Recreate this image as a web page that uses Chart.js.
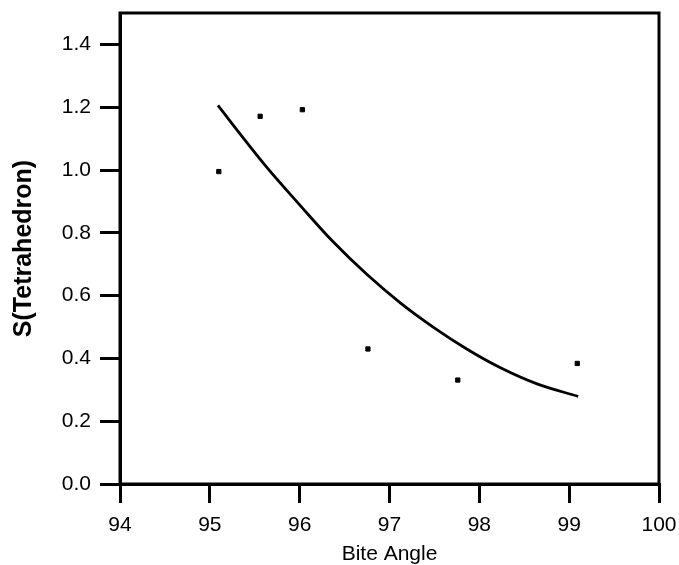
<!DOCTYPE html>
<html>
<head>
<meta charset="utf-8">
<script src="https://cdn.jsdelivr.net/npm/chart.js@4.4.1/dist/chart.umd.min.js"></script>
<style>
  html, body { margin: 0; padding: 0; background: #fff; }
  #wrap { width: 679px; height: 565px; }
</style>
</head>
<body>
<div id="wrap"><canvas id="c" width="679" height="565"></canvas></div>
<script>
// Measured complexes: bite angle vs. continuous-shape measure S(Tetrahedron)
const biteAngle = [95.10, 95.56, 96.03, 96.76, 97.76, 99.09];
const sTetra    = [0.995, 1.171, 1.192, 0.430, 0.331, 0.384];

// Fitted trend curve, sampled along its length
const fitAngle = [95.09, 95.26, 95.63, 96.00, 96.37, 96.75, 97.12, 97.49, 97.86, 98.23, 98.65, 99.10];
const fitS     = [1.206, 1.143, 1.010, 0.889, 0.772, 0.667, 0.577, 0.499, 0.430, 0.371, 0.318, 0.279];

// Axis ranges and tick labels
const xTicks = [94, 95, 96, 97, 98, 99, 100];
const yTicks = [0.0, 0.2, 0.4, 0.6, 0.8, 1.0, 1.2, 1.4];
const xRange = [94, 100];
const yRange = [0, 1.5];

const toXY = (xs, ys) => xs.map((x, i) => ({ x: x, y: ys[i] }));

// Closed frame around the plotting area
const frame = {
  id: 'frame',
  afterDatasetsDraw(chart) {
    const a = chart.chartArea, ctx = chart.ctx;
    ctx.save();
    ctx.strokeStyle = '#000';
    ctx.lineWidth = 3;
    ctx.strokeRect(a.left, a.top, a.right - a.left, a.bottom - a.top);
    ctx.restore();
  }
};

const fontFamily = '"Liberation Sans", Arial, sans-serif';
const tickFont = { family: fontFamily, size: 21 };

new Chart(document.getElementById('c'), {
  type: 'scatter',
  data: {
    datasets: [
      {
        label: 'fit',
        data: toXY(fitAngle, fitS),
        showLine: true,
        borderColor: '#000',
        borderWidth: 2.8,
        cubicInterpolationMode: 'monotone',
        pointRadius: 0,
        fill: false
      },
      {
        label: 'S(Tetrahedron)',
        data: toXY(biteAngle, sTetra),
        showLine: false,
        pointStyle: 'rect',
        pointRadius: 3,
        pointBorderWidth: 1,
        pointBackgroundColor: '#000',
        pointBorderColor: '#000'
      }
    ]
  },
  options: {
    responsive: false,
    animation: false,
    layout: { padding: { left: 0, top: 13, right: 20, bottom: 0 } },
    plugins: { legend: { display: false }, tooltip: { enabled: false } },
    scales: {
      x: {
        type: 'linear',
        min: xRange[0], max: xRange[1],
        afterBuildTicks(s) { s.ticks = xTicks.map(v => ({ value: v })); },
        afterFit(s) { s.height = 81; s.paddingLeft = 0; s.paddingRight = 0; },
        grid: { display: true, drawOnChartArea: false, drawTicks: true, tickLength: 19, lineWidth: 3, color: '#000' },
        border: { display: true, width: 3, color: '#000' },
        ticks: { color: '#000', font: tickFont, padding: 10, maxRotation: 0, callback: v => String(v) },
        title: { display: true, text: 'Bite Angle', color: '#000',
                 font: { family: fontFamily, size: 21, lineHeight: 0.8 },
                 padding: { top: 0, bottom: 2 } }
      },
      y: {
        type: 'linear',
        min: yRange[0], max: yRange[1],
        afterBuildTicks(s) { s.ticks = yTicks.map(v => ({ value: v })); },
        afterFit(s) { s.width = 120; s.paddingTop = 0; s.paddingBottom = 0; },
        grid: { display: true, drawOnChartArea: false, drawTicks: true, tickLength: 20, lineWidth: 3, color: '#000' },
        border: { display: true, width: 3, color: '#000' },
        ticks: { color: '#000', font: tickFont, padding: 9, callback: v => Number(v).toFixed(1) },
        title: { display: true, text: 'S(Tetrahedron)', color: '#000',
                 font: { family: fontFamily, size: 25, weight: 'bold' },
                 padding: { top: 9, bottom: 0 } }
      }
    }
  },
  plugins: [frame]
});
</script>
</body>
</html>
